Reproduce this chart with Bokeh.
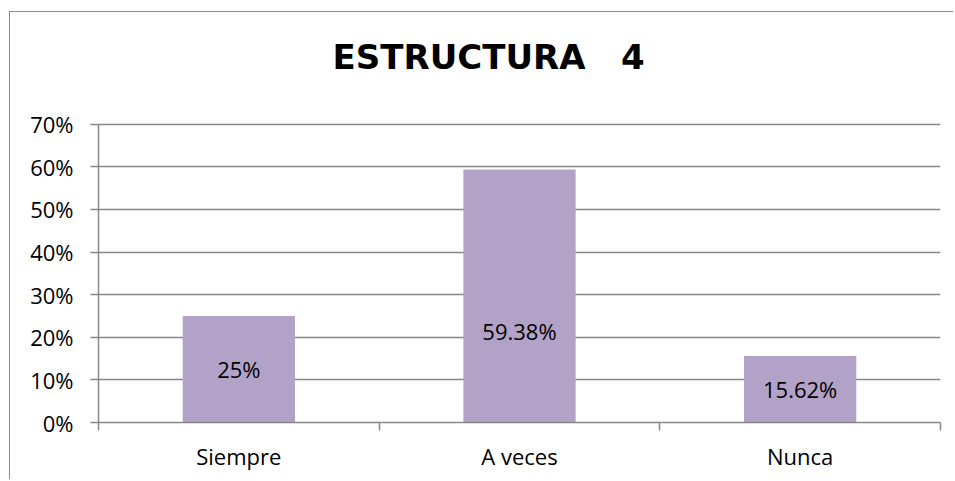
from bokeh.plotting import figure
from bokeh.models import Range1d, FixedTicker, NumeralTickFormatter, ColumnDataSource, LabelSet, Label
from bokeh.core.properties import value
from bokeh.embed import file_html
from bokeh.resources import INLINE

# ---- data ----
categories = ["Siempre", "A veces", "Nunca"]
values = [0.25, 0.5938, 0.1562]
value_labels = ["25%", "59.38%", "15.62%"]
y_ticks = [0.0, 0.1, 0.2, 0.3, 0.4, 0.5, 0.6, 0.7]
title_text = "ESTRUCTURA \u00a0 4"

xs = [i + 0.5 for i in range(len(categories))]
boundaries = [float(i) for i in range(len(categories) + 1)]
# the middle label sits a little below its bar's centre in the original
nudge = [0, -35, 0]
src = ColumnDataSource(dict(x=xs, top=values, mid=[v / 2 for v in values], lab=value_labels,
                            dy=nudge))

GRAY = "#878787"
Y_TOP = 0.96  # frame extends above the last tick to leave room for the title

p = figure(width=944, height=468, output_backend="svg", toolbar_location=None,
           x_range=Range1d(0, len(categories)), y_range=Range1d(0, Y_TOP),
           min_border_left=88, min_border_right=14, min_border_top=1, min_border_bottom=58)
p.styles = {"border-left": "1px solid #8a8a8a", "border-top": "1px solid #8a8a8a",
            "margin-top": "11px", "margin-left": "9px"}
p.outline_line_color = None
p.background_fill_color = "white"
p.border_fill_color = "white"

p.vbar(x="x", top="top", width=0.4, source=src, fill_color="#B2A2C7", line_color=None)

labels = LabelSet(x="x", y="mid", text="lab", source=src, y_offset="dy", text_align="center",
                  text_baseline="middle", text_font=value("Open Sans"), text_font_size=value("22px"),
                  text_color="black")
p.add_layout(labels)

# title
title = Label(x=1.39, y=0.857, text=title_text,
              text_align="center", text_baseline="alphabetic", text_font="DejaVu Sans",
              text_font_style="bold", text_font_size="34px", text_color="black")
p.add_layout(title)

# y axis
p.yaxis.ticker = FixedTicker(ticks=y_ticks)
p.yaxis.bounds = (y_ticks[0], y_ticks[-1])
p.yaxis.formatter = NumeralTickFormatter(format="0%")
p.yaxis.axis_line_color = GRAY
p.yaxis.axis_line_width = 1.5
p.yaxis.major_tick_line_color = GRAY
p.yaxis.major_tick_line_width = 1.5
p.yaxis.major_tick_out = 8
p.yaxis.major_tick_in = 0
p.yaxis.minor_tick_line_color = None
p.yaxis.major_label_standoff = 17
p.yaxis.major_label_text_font = "Open Sans"
p.yaxis.major_label_text_font_size = "22px"
p.yaxis.major_label_text_color = "black"

# x axis: labels at centres, tick marks at category boundaries
p.xaxis.ticker = FixedTicker(ticks=xs, minor_ticks=boundaries)
p.xaxis.major_label_overrides = {x: c for x, c in zip(xs, categories)}
p.xaxis.axis_line_color = GRAY
p.xaxis.axis_line_width = 1.5
p.xaxis.major_tick_line_color = None
p.xaxis.minor_tick_line_color = GRAY
p.xaxis.minor_tick_line_width = 1.5
p.xaxis.minor_tick_out = 8
p.xaxis.minor_tick_in = 0
p.xaxis.major_tick_out = 8
p.xaxis.major_label_standoff = 10
p.xaxis.major_label_text_font = "Open Sans"
p.xaxis.major_label_text_font_size = "22px"
p.xaxis.major_label_text_color = "black"

p.xgrid.grid_line_color = None
p.ygrid.ticker = FixedTicker(ticks=y_ticks)
p.ygrid.grid_line_color = GRAY
p.ygrid.grid_line_width = 1.5

open("out.html", "w").write(file_html(p, INLINE))
